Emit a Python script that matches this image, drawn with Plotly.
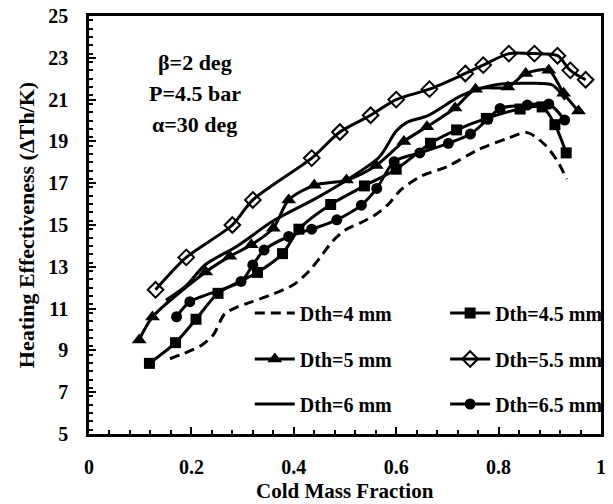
import plotly.graph_objects as go

# ---- data ----
x_d40 = [0.158, 0.185, 0.22, 0.243, 0.265, 0.29, 0.315, 0.36, 0.40, 0.43, 0.45, 0.475, 0.50, 0.53, 0.56, 0.585, 0.61, 0.65, 0.70, 0.76, 0.818, 0.856, 0.888, 0.914, 0.933]
y_d40 = [8.6, 8.85, 9.25, 9.75, 10.75, 11.08, 11.3, 11.7, 12.15, 12.8, 13.4, 14.2, 14.75, 15.1, 15.5, 16.0, 16.7, 17.35, 17.8, 18.6, 19.15, 19.42, 18.9, 18.1, 17.2]

x_d45 = [0.118, 0.169, 0.209, 0.252, 0.329, 0.378, 0.41, 0.472, 0.538, 0.60, 0.667, 0.718, 0.776, 0.842, 0.885, 0.91, 0.932]
y_d45 = [8.38, 9.37, 10.49, 11.73, 12.73, 13.63, 14.8, 15.98, 16.87, 17.67, 18.91, 19.55, 20.1, 20.55, 20.65, 19.8, 18.45]

x_d50 = [0.098, 0.124, 0.228, 0.275, 0.317, 0.36, 0.39, 0.44, 0.503, 0.561, 0.615, 0.66, 0.715, 0.755, 0.818, 0.853, 0.898, 0.927, 0.956]
y_d50 = [9.5, 10.6, 12.75, 13.5, 14.05, 14.85, 16.2, 16.9, 17.15, 17.85, 19.0, 19.7, 20.6, 21.5, 21.6, 22.25, 22.4, 21.3, 20.45]

x_d55 = [0.13, 0.19, 0.28, 0.32, 0.435, 0.49, 0.55, 0.60, 0.665, 0.735, 0.77, 0.82, 0.87, 0.915, 0.94, 0.97]
y_d55 = [11.9, 13.45, 15.0, 16.2, 18.2, 19.45, 20.25, 21.0, 21.5, 22.25, 22.65, 23.2, 23.2, 23.1, 22.4, 21.95]

x_d60 = [0.15, 0.19, 0.227, 0.29, 0.36, 0.445, 0.51, 0.567, 0.60, 0.62, 0.663, 0.728, 0.792, 0.856, 0.905, 0.93]
y_d60 = [11.4, 12.1, 13.1, 14.0, 15.2, 16.3, 17.25, 18.25, 19.5, 19.9, 20.25, 21.2, 21.7, 21.78, 21.7, 21.0]

x_d65 = [0.171, 0.197, 0.297, 0.32, 0.342, 0.39, 0.435, 0.484, 0.532, 0.562, 0.596, 0.646, 0.702, 0.745, 0.779, 0.803, 0.856, 0.898, 0.929]
y_d65 = [10.61, 11.33, 12.3, 13.09, 13.8, 14.45, 14.8, 15.25, 15.95, 16.75, 18.03, 18.45, 18.91, 19.35, 20.06, 20.58, 20.74, 20.79, 20.02]

names = ["Dth=4 mm", "Dth=4.5 mm", "Dth=5 mm", "Dth=5.5 mm", "Dth=6 mm", "Dth=6.5 mm"]
annot_lines = ["β=2 deg", "P=4.5 bar", "α=30 deg"]
x_title = "Cold Mass Fraction"
y_title = "Heating Effectiveness (ΔTh/K)"

FONT = "Liberation Serif"
BLACK = "#000000"

# plot-area geometry (pixels)
L, R, T, B = 89, 5, 16, 70
W, H = 613, 504
PW, PH = W - L - R, H - T - B

def px_x(p):
    return (p - L) / PW

def px_y(p):
    return 1 - (p - T) / PH

fig = go.Figure()

def add(x, y, name, legend, mode="lines+markers", marker=None, dash="solid"):
    fig.add_trace(go.Scatter(
        x=x, y=y, name=name, mode=mode, legend=legend,
        line=dict(color=BLACK, width=3, dash=dash, shape="spline", smoothing=0.8),
        marker=marker or {},
    ))

add(x_d40, y_d40, names[0], "legend", mode="lines", dash="10px,6px")
add(x_d45, y_d45, names[1], "legend2", marker=dict(symbol="square", size=11, color=BLACK))
add(x_d50, y_d50, names[2], "legend3", marker=dict(symbol="triangle-up", size=13, color=BLACK))
add(x_d55, y_d55, names[3], "legend4", marker=dict(symbol="diamond-open", size=12, color=BLACK, line=dict(width=2, color=BLACK)))
add(x_d60, y_d60, names[4], "legend5", mode="lines")
add(x_d65, y_d65, names[5], "legend6", marker=dict(symbol="circle", size=11, color=BLACK))

axis_common = dict(
    showline=True, linecolor=BLACK, linewidth=2.5, mirror=True,
    ticks="inside", ticklen=7, tickwidth=2, tickcolor=BLACK,
    showgrid=False, zeroline=False,
    tickfont=dict(family=FONT, size=20, color=BLACK, weight="bold"),
)

fig.update_xaxes(
    range=[0, 1], tick0=0, dtick=0.2,
    minor=dict(ticks="inside", dtick=0.04, ticklen=4, tickwidth=1.5, tickcolor=BLACK, showgrid=False),
    ticklabelstandoff=13,
    **axis_common,
)
fig.update_yaxes(
    range=[5, 25], tick0=5, dtick=2,
    minor=dict(ticks="inside", dtick=0.4, ticklen=4, tickwidth=1.5, tickcolor=BLACK, showgrid=False),
    ticklabelstandoff=14,
    title=dict(text=y_title, font=dict(family=FONT, size=22, color=BLACK, weight="bold"), standoff=8),
    **axis_common,
)

def leg(xp, yp):
    return dict(
        orientation="h", xanchor="left", yanchor="middle",
        x=px_x(xp), y=px_y(yp),
        font=dict(family=FONT, size=20, color=BLACK, weight="bold"),
        bgcolor="rgba(0,0,0,0)", itemwidth=40,
    )

col1, col2 = 252, 450
row1, row2, row3 = 313, 359, 404
fig.update_layout(
    width=W, height=H,
    margin=dict(l=L, r=R, t=T, b=B),
    paper_bgcolor="white", plot_bgcolor="white",
    showlegend=True,
    legend=leg(col1, row1), legend2=leg(col2, row1),
    legend3=leg(col1, row2), legend4=leg(col2, row2),
    legend5=leg(col1, row3), legend6=leg(col2, row3),
)

# x-axis title placed as paper text just under the tick labels
fig.add_annotation(
    text=x_title, xref="paper", yref="paper",
    x=0.5, y=px_y(491), xanchor="center", yanchor="middle", showarrow=False,
    font=dict(family=FONT, size=21, color=BLACK, weight="bold"),
)

for txt, ypx in zip(annot_lines, [62, 93, 124]):
    fig.add_annotation(
        text=txt, xref="paper", yref="paper",
        x=px_x(196), y=px_y(ypx),
        xanchor="center", yanchor="middle", showarrow=False,
        font=dict(family=FONT, size=22, color=BLACK, weight="bold"),
    )

fig.write_html("out.html")
